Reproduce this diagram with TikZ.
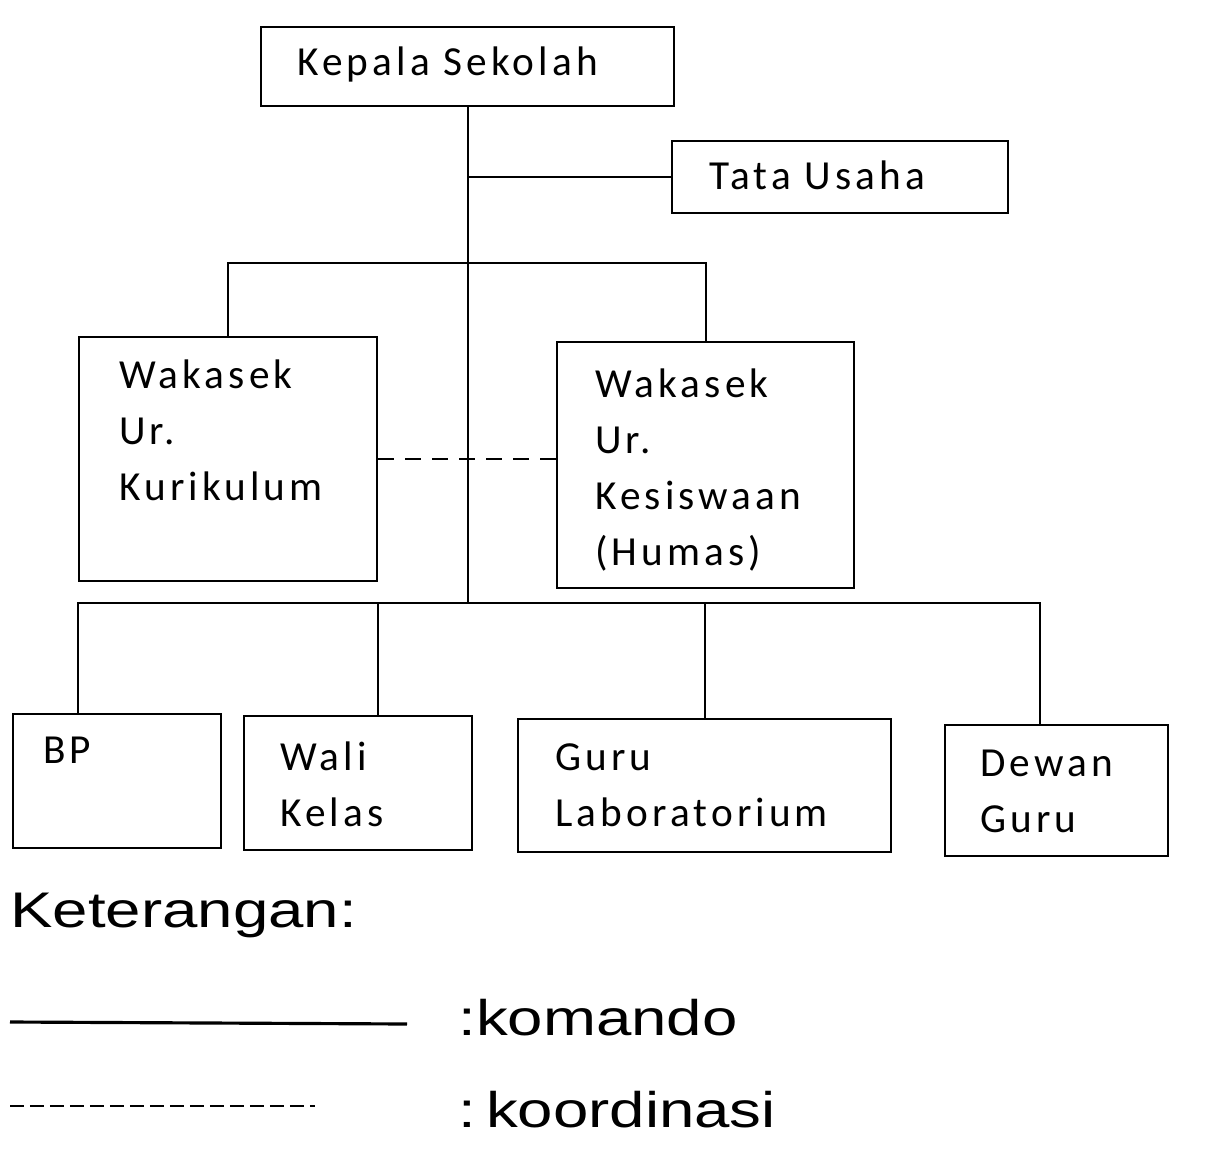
\documentclass[tikz,border=0pt]{standalone}
\usepackage{fontspec}
\setmainfont{Carlito}[LetterSpace=10]
\newfontfamily\legendfont{Liberation Sans}[FakeStretch=1.27]
\usepackage{xcolor}
\usepackage{tikz}
\usetikzlibrary{calc}

\begin{document}
\begin{tikzpicture}[x=0.02cm,y=-0.02cm,
	box/.style={draw,line width=1.4pt,anchor=north west,inner sep=0pt},
	txt/.style={anchor=north west,inner sep=0pt,align=left,font=\fontsize{23.5}{31.9}\selectfont},
	komando/.style={line width=1.2pt},
	koord/.style={line width=1.2pt,dash pattern=on 0.32cm off 0.22cm},
	legend/.style={anchor=base west,inner sep=0pt,font=\legendfont\fontsize{28.5}{34}\selectfont}]
	\useasboundingbox (0,0) rectangle (1224,1170);

	\node [box,minimum width=8.26cm,minimum height=1.58cm] (kepsek) at (260,26) {};
	\node [box,minimum width=6.72cm,minimum height=1.44cm] (tu) at (671,140) {};
	\node [box,minimum width=5.96cm,minimum height=4.88cm] (wk) at (78,336) {};
	\node [box,minimum width=5.94cm,minimum height=4.92cm] (ws) at (556,341) {};
	\node [box,minimum width=4.16cm,minimum height=2.68cm] (bp) at (12,713) {};
	\node [box,minimum width=4.56cm,minimum height=2.68cm] (wali) at (243,715) {};
	\node [box,minimum width=7.46cm,minimum height=2.66cm] (lab) at (517,718) {};
	\node [box,minimum width=4.46cm,minimum height=2.62cm] (dg) at (944,724) {};

	\node [txt] (kepsek-t) at ($(kepsek.north west)+(37,20)$) {Kepala Sekolah};
	\node [txt] (tu-t) at ($(tu.north west)+(38,20)$) {Tata Usaha};
	\node [txt] (wk-t) at ($(wk.north west)+(41,23)$) {Wakasek\\Ur.\\Kurikulum};
	\node [txt] (ws-t) at ($(ws.north west)+(39,27)$) {Wakasek\\Ur.\\Kesiswaan\\(Humas)};
	\node [txt] (bp-t) at ($(bp.north west)+(31,24)$) {BP};
	\node [txt] (wali-t) at ($(wali.north west)+(37,26)$) {Wali\\Kelas};
	\node [txt] (lab-t) at ($(lab.north west)+(38,25)$) {Guru\\Laboratorium};
	\node [txt] (dg-t) at ($(dg.north west)+(36,26)$) {Dewan\\Guru};

	\coordinate (j1) at (kepsek.south |- 0,263);
	\coordinate (j2) at (kepsek.south |- 0,603);
	\coordinate (bp-in) at (bp.north -| wk.west);
	\coordinate (wali-in) at (wali.north -| wk.east);
	\coordinate (dg-in) at ($(dg.north west)+(96,0)$);

	\draw [komando] (kepsek.south) -- (j2);
	\draw [komando] (tu.west) -- (tu.west -| kepsek.south);
	\draw [komando] (wk.north) |- (j1) -| (ws.north);
	\draw [komando] (bp-in) |- (j2) -| (dg-in);
	\draw [komando] (wali-in) -- (wali-in |- j2);
	\draw [komando] (lab.north) -- (lab.north |- j2);
	\draw [koord] (wk.east) -- (wk.east -| ws.west);

	\node [legend] (ket) at (10,927) {Keterangan:};
	\coordinate (kom-a) at (10,1022);
	\coordinate (kom-b) at (407,1024);
	\coordinate (koo-a) at (10,1106);
	\coordinate (koo-b) at (315,1106);
	\draw [line width=1.8pt] (kom-a) -- (kom-b);
	\draw [line width=1.2pt,dash pattern=on 0.28cm off 0.12cm] (koo-a) -- (koo-b);
	\node [legend] (kom-t) at (458,1035) {:komando};
	\node [legend] (koo-t) at (458,1127) {:\hspace{0.2em}koordinasi};
\end{tikzpicture}
\end{document}
